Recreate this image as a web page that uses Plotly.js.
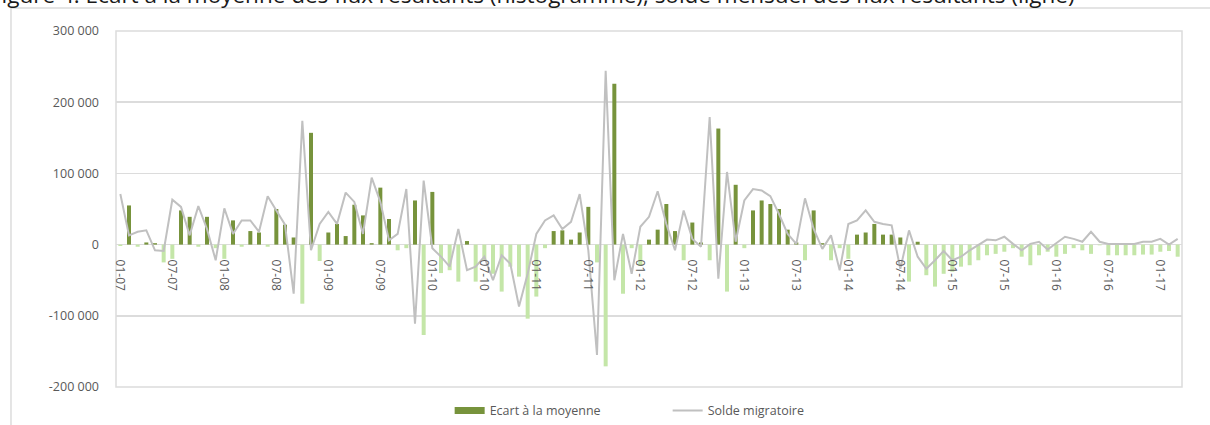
<!DOCTYPE html>
<html>
<head>
<meta charset="utf-8">
<script src="https://cdn.plot.ly/plotly-3.0.1.min.js"></script>
<style>
  html, body { margin: 0; padding: 0; background: #ffffff; overflow: hidden; }
  #chart { width: 1210px; height: 425px; }
</style>
</head>
<body>
<div id="chart"></div>
<script>
// ---- Data (monthly, January 2007 to March 2017) ----
const startYear = 2007;
const monthCount = 123;
const months = [];
for (let k = 0; k < monthCount; k++) {
  const m = (k % 12) + 1;
  const y = (startYear + Math.floor(k / 12)) % 100;
  months.push(String(m).padStart(2, '0') + '-' + String(y).padStart(2, '0'));
}

const tickLabels = ["01-07","07-07","01-08","07-08","01-09","07-09","01-10","07-10",
  "01-11","07-11","01-12","07-12","01-13","07-13","01-14","07-14","01-15","07-15",
  "01-16","07-16","01-17"];

const ecartMoyenne = [
  -2000, 55000, -3000, 3000, 2000, -25000, -20000, 48000, 39000, -3000, 39000, -5000,
  -20000, 34000, -3000, 19000, 17000, -3000, 50000, 28000, 10000, -83000, 157000, -23000,
  17000, 29000, 12000, 56000, 41000, 2000, 80000, 36000, -8000, -5000, 62000, -127000,
  74000, -40000, -36000, -52000, 5000, -52000, -22000, -41000, -66000, -31000, -45000, -104000,
  -73000, -5000, 19000, 20000, 7000, 17000, 53000, -25000, -171000, 226000, -69000, -5000,
  -30000, 7000, 21000, 57000, 19000, -22000, 31000, 3000, -22000, 163000, -66000, 84000,
  -5000, 48000, 62000, 57000, 50000, 21000, 3000, -22000, 48000, 2000, -22000, -5000,
  -20000, 14000, 17000, 29000, 14000, 14000, 10000, -52000, 4000, -43000, -59000, -41000,
  -38000, -31000, -29000, -22000, -15000, -13000, -10000, -5000, -17000, -29000, -15000, -10000,
  -17000, -13000, -5000, -8000, -13000, -1000, -15000, -15000, -15000, -15000, -14000, -14000,
  -10000, -9000, -17000
];

const soldeMigratoire = [
  71000, 13000, 18000, 20000, -8000, -9000, 63000, 53000, 13000, 54000, 22000, -22000,
  51000, 15000, 34000, 34000, 18000, 68000, 48000, 28000, -69000, 174000, -8000, 29000,
  46000, 29000, 73000, 60000, 15000, 94000, 60000, 6000, 15000, 78000, -111000, 90000,
  -5000, -17000, -31000, 22000, -36000, -31000, -17000, -50000, -15000, -27000, -87000, -41000,
  15000, 34000, 41000, 22000, 32000, 71000, -8000, -155000, 244000, -50000, 15000, -41000,
  25000, 39000, 75000, 29000, -8000, 48000, 8000, -3000, 179000, -48000, 102000, 4000,
  62000, 78000, 76000, 68000, 43000, 15000, 1000, 65000, 22000, -6000, 13000, -36000,
  29000, 34000, 48000, 32000, 29000, 27000, -34000, 20000, -17000, -34000, -22000, -9000,
  -22000, -17000, -8000, -1000, 7000, 6000, 11000, 1000, -8000, 1000, 4000, -7000,
  2000, 11000, 8000, 4000, 18000, 4000, 1000, 1000, 1000, 1000, 4000, 4000,
  8000, 0, 8000
];

const yTickVals = [300000, 200000, 100000, 0, -100000, -200000];
const yTickText = ["300 000", "200 000", "100 000", "0", "-100 000", "-200 000"];

// ---- Styles ----
const darkGreen = '#77933c';
const lightGreen = '#c4e6a8';
const lineGray = '#c0c0c0';
const gridGray = '#dcdcdc';
const textGray = '#595959';
const fontFam = '"Open Sans", "Liberation Sans", Arial, sans-serif';

const barColors = ecartMoyenne.map(v => v >= 0 ? darkGreen : lightGreen);

const traces = [
  {
    type: 'bar', x: months, y: ecartMoyenne, name: 'Ecart à la moyenne',
    marker: { color: barColors, line: { width: 0 } },
    showlegend: false, hoverinfo: 'x+y'
  },
  {
    type: 'scatter', mode: 'lines', x: months, y: soldeMigratoire, name: 'Solde migratoire',
    line: { color: lineGray, width: 2 }, showlegend: false, hoverinfo: 'x+y'
  },
  // legend-only entries
  {
    type: 'scatter', mode: 'lines', x: [null], y: [null], name: 'Ecart à la moyenne',
    line: { color: darkGreen, width: 7 }, hoverinfo: 'skip'
  },
  {
    type: 'scatter', mode: 'lines', x: [null], y: [null], name: 'Solde migratoire',
    line: { color: lineGray, width: 2 }, hoverinfo: 'skip'
  }
];

const layout = {
  width: 1210, height: 425,
  margin: { l: 116, r: 28, t: 31, b: 38, autoexpand: false },
  paper_bgcolor: '#ffffff', plot_bgcolor: '#ffffff',
  font: { family: fontFam, color: textGray, size: 12 },
  bargap: 0.54,
  showlegend: true,
  legend: {
    orientation: 'h', x: 0.313, xanchor: 'left', y: -0.067, yanchor: 'middle',
    itemwidth: 30, entrywidth: 173, entrywidthmode: 'pixels',
    font: { family: fontFam, size: 12.5, color: textGray },
    bgcolor: 'rgba(0,0,0,0)', traceorder: 'normal'
  },
  xaxis: {
    type: 'category', anchor: 'free', position: 0.4,
    tickmode: 'array', tickvals: tickLabels, ticktext: tickLabels,
    tickangle: 90, ticks: '', showgrid: false, showline: false, zeroline: false,
    tickfont: { family: fontFam, size: 12, color: textGray },
    ticklabelstandoff: 14, fixedrange: true, automargin: false
  },
  yaxis: {
    range: [-200000, 300000], tickmode: 'array', tickvals: yTickVals, ticktext: yTickText,
    showgrid: true, gridcolor: gridGray, gridwidth: 1.5, zeroline: false, showline: false,
    ticks: '', tickfont: { family: fontFam, size: 12.5, color: textGray },
    ticklabelstandoff: 16, fixedrange: true, automargin: false
  },
  shapes: [
    { type: 'rect', xref: 'paper', yref: 'paper', x0: 0, x1: 1, y0: 0, y1: 1,
      line: { color: gridGray, width: 1.5 }, layer: 'below' },
    { type: 'rect', xref: 'paper', yref: 'paper', x0: -0.0985, x1: 1.2, y0: -0.3, y1: 1.0646,
      line: { color: gridGray, width: 1.5 }, layer: 'below' }
  ],
  annotations: [
    { xref: 'paper', yref: 'paper', x: -0.12, xanchor: 'left', y: 1.1025, yanchor: 'middle',
      showarrow: false,
      text: 'Figure 4. Ecart à la moyenne des flux résultants (histogramme), solde mensuel des flux résultants (ligne)',
      font: { family: fontFam, size: 22.5, color: '#1a1a1a' } }
  ]
};

Plotly.newPlot('chart', traces, layout, { staticPlot: true, displayModeBar: false });
</script>
</body>
</html>
